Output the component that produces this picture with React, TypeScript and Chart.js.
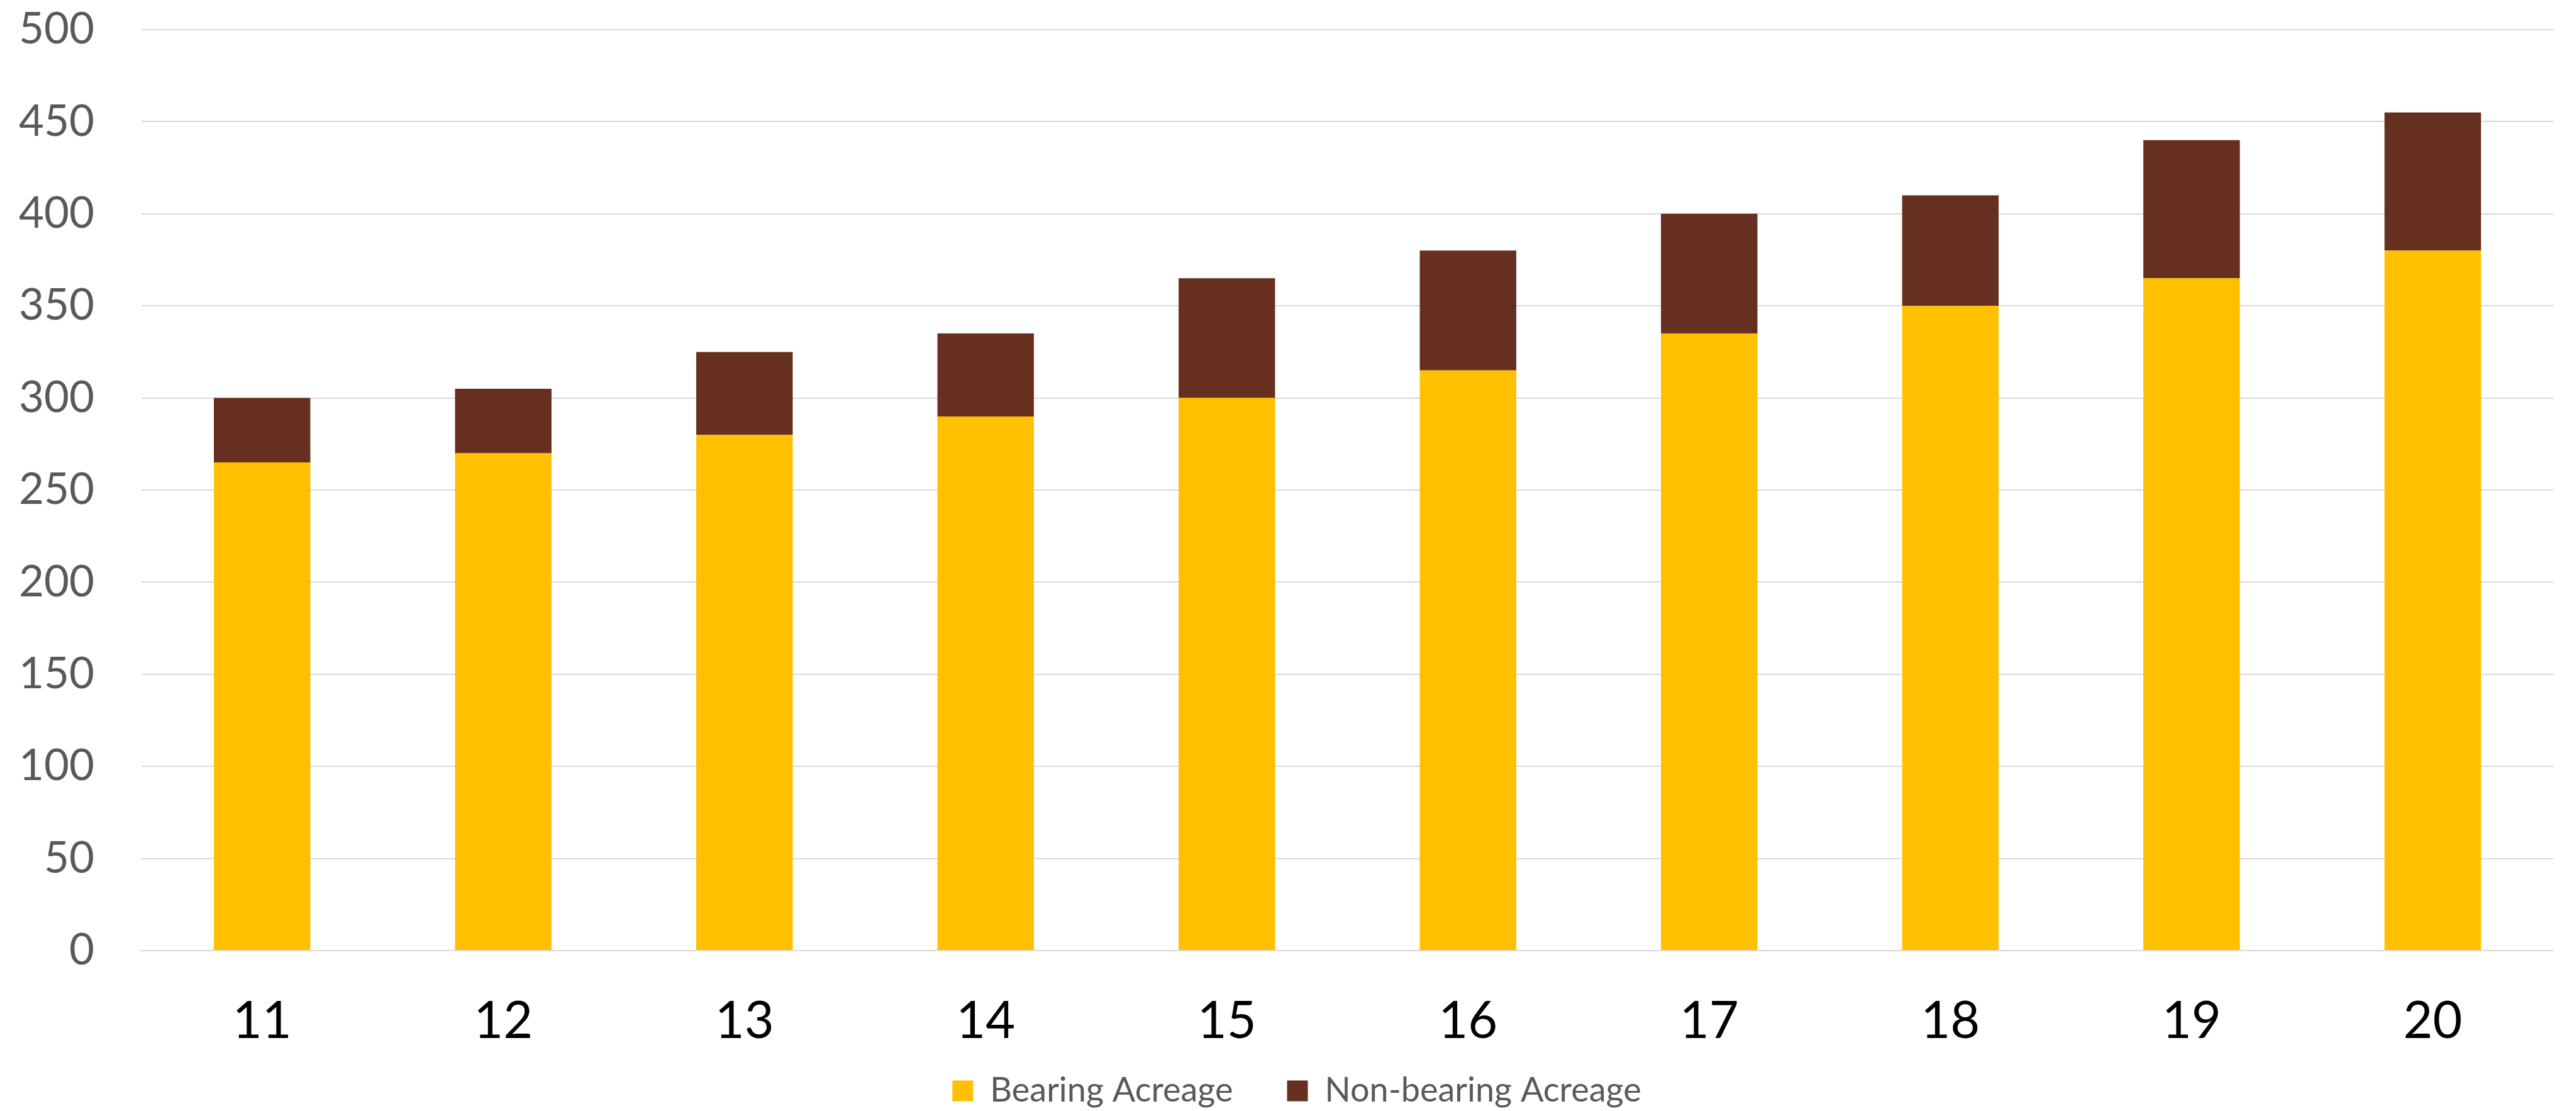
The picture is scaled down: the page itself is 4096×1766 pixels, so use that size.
import React, { useEffect, useRef } from "react";
import { Chart, CategoryScale, LinearScale, registerables } from "chart.js";

Chart.register(...registerables);

// Axes whose tick labels are not clipped to the axis box
class FreeLabelCategoryScale extends CategoryScale {
  static id = "categoryFreeLabels";
  static defaults = CategoryScale.defaults;
  _computeLabelArea() {
    return undefined;
  }
}
class FreeLabelLinearScale extends LinearScale {
  static id = "linearFreeLabels";
  static defaults = LinearScale.defaults;
  _computeLabelArea() {
    return undefined;
  }
}
Chart.register(FreeLabelCategoryScale, FreeLabelLinearScale);

const categories = ["11", "12", "13", "14", "15", "16", "17", "18", "19", "20"];
const bearingAcreage = [265, 270, 280, 290, 300, 315, 335, 350, 365, 380];
const nonBearingAcreage = [35, 35, 45, 45, 65, 65, 65, 60, 75, 75];
const seriesNames = ["Bearing Acreage", "Non-bearing Acreage"];
const seriesColors = ["#FFC000", "#662F1F"];
const yMin = 0;
const yMax = 500;
const yStep = 50;

export default function App() {
  const canvasRef = useRef<HTMLCanvasElement | null>(null);

  useEffect(() => {
    const canvas = canvasRef.current;
    if (!canvas) return;
    const chart = new Chart(canvas, {
      type: "bar",
      data: {
        labels: categories,
        datasets: [
          {
            label: seriesNames[0],
            data: bearingAcreage,
            backgroundColor: seriesColors[0],
            borderWidth: 0,
          },
          {
            label: seriesNames[1],
            data: nonBearingAcreage,
            backgroundColor: seriesColors[1],
            borderWidth: 0,
          },
        ],
      },
      options: {
        responsive: false,
        animation: false,
        devicePixelRatio: 1,
        layout: { padding: { top: 47, left: 64, right: 36, bottom: 0 } },
        datasets: {
          bar: { categoryPercentage: 1, barPercentage: 0.4 },
        },
        plugins: {
          tooltip: { enabled: false },
          legend: {
            position: "bottom",
            maxHeight: 145,
            labels: {
              font: { family: "Lato", size: 54 },
              color: "#595959",
              boxWidth: 33,
              boxHeight: 33,
              padding: 86,
            },
          },
        },
        scales: {
          x: {
            type: "categoryFreeLabels" as any,
            stacked: true,
            grid: { display: false, drawTicks: false },
            border: { display: true, color: "#D9D9D9", width: 2 },
            ticks: {
              font: { family: "Lato", size: 81 },
              color: "#000000",
              padding: 64,
              autoSkip: false,
              maxRotation: 0,
              minRotation: 0,
            },
            afterFit: (scale: any) => {
              scale.height = 110;
            },
          },
          y: {
            type: "linearFreeLabels" as any,
            stacked: true,
            min: yMin,
            max: yMax,
            grid: {
              color: "#D9D9D9",
              lineWidth: 2,
              drawTicks: true,
              tickLength: 75,
              tickColor: "rgba(0,0,0,0)",
            },
            border: { display: false },
            ticks: {
              stepSize: yStep,
              font: { family: "Lato", size: 69 },
              color: "#595959",
              padding: 0,
            },
            afterFit: (scale: any) => {
              scale.width = 161;
            },
          },
        },
      },
    });
    return () => chart.destroy();
  }, []);

  return (
    <canvas
      ref={canvasRef}
      width={4096}
      height={1766}
      style={{ position: "absolute", left: 0, top: 0, width: 4096, height: 1766, display: "block" }}
    />
  );
}
